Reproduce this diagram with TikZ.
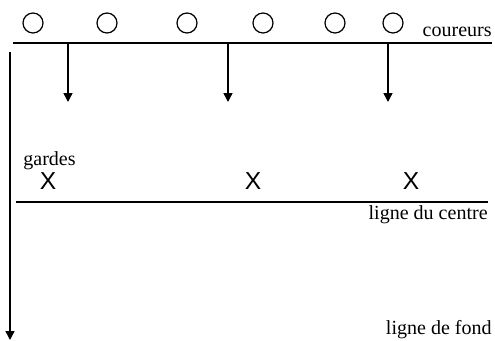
\documentclass[tikz,border=0pt]{standalone}
\usepackage{fontspec}
\setmainfont{Liberation Serif}
\newfontfamily\sansx{Liberation Sans}
\usetikzlibrary{arrows.meta}

\begin{document}
\begin{tikzpicture}[
    x=0.02cm, y=-0.02cm,
    coureur/.style={circle, draw, line width=0.7pt, minimum size=0.4cm, inner sep=0pt},
    garde/.style={font=\sansx\fontsize{14}{14}\selectfont, inner sep=0pt},
    lbl/.style={font=\fontsize{11.4}{13}\selectfont, inner sep=0pt},
    ligne/.style={line width=0.8pt},
    fleche/.style={->, >={Triangle[length=5pt, width=5pt]}, line width=0.8pt},
]
\useasboundingbox (0,0) rectangle (495,341);
% coureurs
\foreach \x [count=\i] in {33,107,187,263,335,393}
    \node[coureur] (c\i) at (\x,23) {};
\coordinate (h1) at (13,43);
\coordinate (h2) at (492,43);
\draw[ligne] (h1) -- (h2);
\node[lbl, anchor=base east] (coureurs) at (492,37) {coureurs};
% courses vers le centre
\foreach \x [count=\i] in {68,228,388} {
    \coordinate (a\i) at (\x,43);
    \coordinate (b\i) at (\x,102);
    \draw[fleche] (a\i) -- (b\i);
}
% gardes
\node[lbl, anchor=base west] (gardes) at (23,166) {gardes};
\node[garde] (g1) at (48,181) {X};
\node[garde] (g2) at (253,181) {X};
\node[garde] (g3) at (411,181) {X};
\coordinate (m1) at (16,202);
\coordinate (m2) at (488,202);
\draw[ligne] (m1) -- (m2);
\node[lbl, anchor=base east] (centre) at (488,220) {ligne du centre};
% ligne de fond
\coordinate (f1) at (10,52);
\coordinate (f2) at (10,340);
\draw[fleche] (f1) -- (f2);
\node[lbl, anchor=base east] (fond) at (492,335) {ligne de fond};
\end{tikzpicture}
\end{document}
